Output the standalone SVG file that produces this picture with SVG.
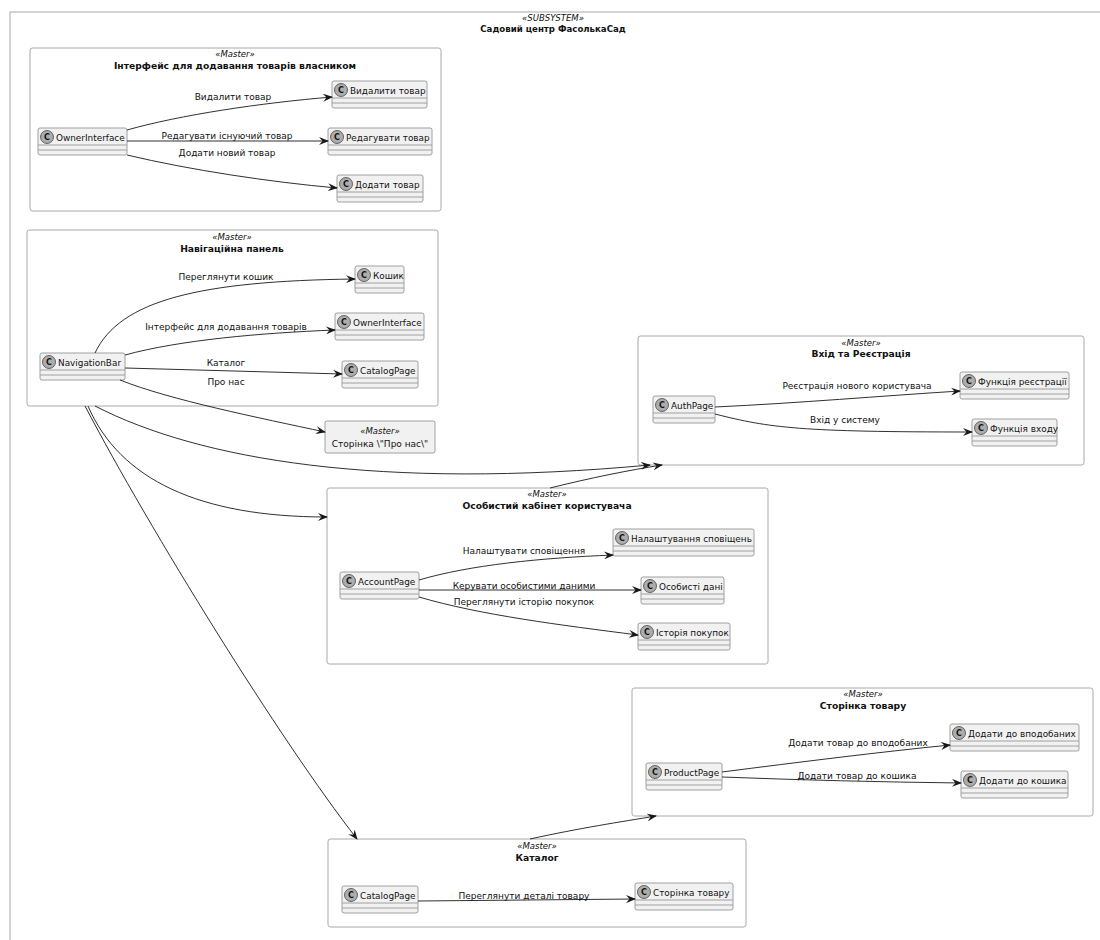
<svg xmlns="http://www.w3.org/2000/svg" width="1100" height="940" viewBox="0 0 1100 940">
<defs>
<marker id="arr" viewBox="0 0 10 8" refX="9" refY="4" markerWidth="10" markerHeight="8" markerUnits="userSpaceOnUse" orient="auto">
<path d="M0,0 L10,4 L0,8 L3.5,4 Z" fill="#181818"/>
</marker>
</defs>
<style>
text{font-family:"DejaVu Sans","Liberation Sans",sans-serif;fill:#111}
.pkg{fill:none;stroke:#A8A8A8;stroke-width:1}
.st{font-size:8.5px;font-style:italic;text-anchor:middle}
.pt{font-size:9.2px;font-weight:bold;text-anchor:middle}
.tt{font-size:8.6px;font-weight:bold;text-anchor:middle}
.cb{fill:#F1F1F1;stroke:#A0A0A0;stroke-width:1}
.cl{stroke:#A0A0A0;stroke-width:1}
.ci{fill:#ADADAD;stroke:#181818;stroke-width:0.6}
.cc{font-size:8px;font-weight:bold;text-anchor:middle}
.cn{font-size:8.9px}
.lb{font-size:9px;text-anchor:middle}
.e{fill:none;stroke:#181818;stroke-width:0.9;marker-end:url(#arr)}
</style>
<rect width="1100" height="940" fill="#FFFFFF"/>
<g id="subsystem">
<rect x="10" y="12" width="1200" height="1000" class="pkg"/>
<text x="553" y="21" class="st">«SUBSYSTEM»</text>
<text x="553" y="32" class="tt">Садовий центр ФасолькаСад</text>
</g>

<g id="pkg-owner">
<rect x="30" y="48" width="411" height="163" rx="2.5" class="pkg"/>
<text x="235" y="57" class="st">«Master»</text>
<text x="235" y="69" class="pt">Інтерфейс для додавання товарів власником</text>
</g>
<g id="OwnerInterface1"><rect x="38" y="128" width="89" height="27" rx="2" class="cb"/><line x1="38" y1="145" x2="127" y2="145" class="cl"/><line x1="38" y1="150" x2="127" y2="150" class="cl"/><circle cx="47" cy="137" r="6.5" class="ci"/><text x="47" y="140" class="cc">C</text><text x="56" y="141" class="cn">OwnerInterface</text></g>
<g id="Delete"><rect x="332" y="81" width="95" height="27" rx="2" class="cb"/><line x1="332" y1="98" x2="427" y2="98" class="cl"/><line x1="332" y1="103" x2="427" y2="103" class="cl"/><circle cx="341" cy="90" r="6.5" class="ci"/><text x="341" y="93" class="cc">C</text><text x="350" y="94" class="cn">Видалити товар</text></g>
<g id="Edit"><rect x="328" y="128" width="104" height="27" rx="2" class="cb"/><line x1="328" y1="145" x2="432" y2="145" class="cl"/><line x1="328" y1="150" x2="432" y2="150" class="cl"/><circle cx="337" cy="137" r="6.5" class="ci"/><text x="337" y="140" class="cc">C</text><text x="346" y="141" class="cn">Редагувати товар</text></g>
<g id="Add"><rect x="337" y="175" width="86" height="27" rx="2" class="cb"/><line x1="337" y1="192" x2="423" y2="192" class="cl"/><line x1="337" y1="197" x2="423" y2="197" class="cl"/><circle cx="346" cy="184" r="6.5" class="ci"/><text x="346" y="187" class="cc">C</text><text x="355" y="188" class="cn">Додати товар</text></g>

<g id="pkg-nav">
<rect x="27" y="230" width="411" height="176" rx="2.5" class="pkg"/>
<text x="232" y="240" class="st">«Master»</text>
<text x="232" y="252" class="pt">Навігаційна панель</text>
</g>
<g id="NavigationBar"><rect x="40" y="353" width="85" height="27" rx="2" class="cb"/><line x1="40" y1="370" x2="125" y2="370" class="cl"/><line x1="40" y1="375" x2="125" y2="375" class="cl"/><circle cx="49" cy="362" r="6.5" class="ci"/><text x="49" y="365" class="cc">C</text><text x="58" y="366" class="cn">NavigationBar</text></g>
<g id="Cart"><rect x="355" y="266" width="49" height="27" rx="2" class="cb"/><line x1="355" y1="283" x2="404" y2="283" class="cl"/><line x1="355" y1="288" x2="404" y2="288" class="cl"/><circle cx="364" cy="275" r="6.5" class="ci"/><text x="364" y="278" class="cc">C</text><text x="373" y="279" class="cn">Кошик</text></g>
<g id="OwnerInterface2"><rect x="335" y="313" width="89" height="27" rx="2" class="cb"/><line x1="335" y1="330" x2="424" y2="330" class="cl"/><line x1="335" y1="335" x2="424" y2="335" class="cl"/><circle cx="344" cy="322" r="6.5" class="ci"/><text x="344" y="325" class="cc">C</text><text x="353" y="326" class="cn">OwnerInterface</text></g>
<g id="CatalogPage1"><rect x="342" y="361" width="76" height="27" rx="2" class="cb"/><line x1="342" y1="378" x2="418" y2="378" class="cl"/><line x1="342" y1="383" x2="418" y2="383" class="cl"/><circle cx="351" cy="370" r="6.5" class="ci"/><text x="351" y="373" class="cc">C</text><text x="360" y="374" class="cn">CatalogPage</text></g>

<g id="AboutPage">
<rect x="325" y="421" width="110" height="32" rx="2" class="cb"/>
<text x="380" y="434" class="st">«Master»</text>
<text x="380" y="447" class="lb">Сторінка \"Про нас\"</text>
</g>

<g id="pkg-auth">
<rect x="638" y="336" width="446" height="129" rx="2.5" class="pkg"/>
<text x="861" y="346" class="st">«Master»</text>
<text x="861" y="357" class="pt">Вхід та Реєстрація</text>
</g>
<g id="AuthPage"><rect x="653" y="396" width="62" height="27" rx="2" class="cb"/><line x1="653" y1="413" x2="715" y2="413" class="cl"/><line x1="653" y1="418" x2="715" y2="418" class="cl"/><circle cx="662" cy="405" r="6.5" class="ci"/><text x="662" y="408" class="cc">C</text><text x="671" y="409" class="cn">AuthPage</text></g>
<g id="Register"><rect x="960" y="372" width="109" height="27" rx="2" class="cb"/><line x1="960" y1="389" x2="1069" y2="389" class="cl"/><line x1="960" y1="394" x2="1069" y2="394" class="cl"/><circle cx="969" cy="381" r="6.5" class="ci"/><text x="969" y="384" class="cc">C</text><text x="978" y="385" class="cn">Функція реєстрації</text></g>
<g id="Login"><rect x="972" y="419" width="85" height="27" rx="2" class="cb"/><line x1="972" y1="436" x2="1057" y2="436" class="cl"/><line x1="972" y1="441" x2="1057" y2="441" class="cl"/><circle cx="981" cy="428" r="6.5" class="ci"/><text x="981" y="431" class="cc">C</text><text x="990" y="432" class="cn">Функція входу</text></g>

<g id="pkg-account">
<rect x="327" y="488" width="441" height="176" rx="2.5" class="pkg"/>
<text x="547" y="497" class="st">«Master»</text>
<text x="547" y="509" class="pt">Особистий кабінет користувача</text>
</g>
<g id="AccountPage"><rect x="340" y="572" width="79" height="27" rx="2" class="cb"/><line x1="340" y1="589" x2="419" y2="589" class="cl"/><line x1="340" y1="594" x2="419" y2="594" class="cl"/><circle cx="349" cy="581" r="6.5" class="ci"/><text x="349" y="584" class="cc">C</text><text x="358" y="585" class="cn">AccountPage</text></g>
<g id="Notifications"><rect x="613" y="529" width="141" height="27" rx="2" class="cb"/><line x1="613" y1="546" x2="754" y2="546" class="cl"/><line x1="613" y1="551" x2="754" y2="551" class="cl"/><circle cx="622" cy="538" r="6.5" class="ci"/><text x="622" y="541" class="cc">C</text><text x="631" y="542" class="cn">Налаштування сповіщень</text></g>
<g id="PersonalData"><rect x="641" y="577" width="83" height="27" rx="2" class="cb"/><line x1="641" y1="594" x2="724" y2="594" class="cl"/><line x1="641" y1="599" x2="724" y2="599" class="cl"/><circle cx="650" cy="586" r="6.5" class="ci"/><text x="650" y="589" class="cc">C</text><text x="659" y="590" class="cn">Особисті дані</text></g>
<g id="History"><rect x="638" y="623" width="92" height="27" rx="2" class="cb"/><line x1="638" y1="640" x2="730" y2="640" class="cl"/><line x1="638" y1="645" x2="730" y2="645" class="cl"/><circle cx="647" cy="632" r="6.5" class="ci"/><text x="647" y="635" class="cc">C</text><text x="656" y="636" class="cn">Історія покупок</text></g>

<g id="pkg-product">
<rect x="632" y="688" width="461" height="128" rx="2.5" class="pkg"/>
<text x="863" y="697" class="st">«Master»</text>
<text x="863" y="709" class="pt">Сторінка товару</text>
</g>
<g id="ProductPage"><rect x="646" y="763" width="76" height="27" rx="2" class="cb"/><line x1="646" y1="780" x2="722" y2="780" class="cl"/><line x1="646" y1="785" x2="722" y2="785" class="cl"/><circle cx="655" cy="772" r="6.5" class="ci"/><text x="655" y="775" class="cc">C</text><text x="664" y="776" class="cn">ProductPage</text></g>
<g id="Favorites"><rect x="950" y="724" width="129" height="27" rx="2" class="cb"/><line x1="950" y1="741" x2="1079" y2="741" class="cl"/><line x1="950" y1="746" x2="1079" y2="746" class="cl"/><circle cx="959" cy="733" r="6.5" class="ci"/><text x="959" y="736" class="cc">C</text><text x="968" y="737" class="cn">Додати до вподобаних</text></g>
<g id="AddToCart"><rect x="961" y="771" width="107" height="27" rx="2" class="cb"/><line x1="961" y1="788" x2="1068" y2="788" class="cl"/><line x1="961" y1="793" x2="1068" y2="793" class="cl"/><circle cx="970" cy="780" r="6.5" class="ci"/><text x="970" y="783" class="cc">C</text><text x="979" y="784" class="cn">Додати до кошика</text></g>

<g id="pkg-catalog">
<rect x="328" y="839" width="418" height="88" rx="2.5" class="pkg"/>
<text x="537" y="849" class="st">«Master»</text>
<text x="537" y="861" class="pt">Каталог</text>
</g>
<g id="CatalogPage2"><rect x="342" y="886" width="76" height="27" rx="2" class="cb"/><line x1="342" y1="903" x2="418" y2="903" class="cl"/><line x1="342" y1="908" x2="418" y2="908" class="cl"/><circle cx="351" cy="895" r="6.5" class="ci"/><text x="351" y="898" class="cc">C</text><text x="360" y="899" class="cn">CatalogPage</text></g>
<g id="ProductPageRef"><rect x="635" y="883" width="98" height="27" rx="2" class="cb"/><line x1="635" y1="900" x2="733" y2="900" class="cl"/><line x1="635" y1="905" x2="733" y2="905" class="cl"/><circle cx="644" cy="892" r="6.5" class="ci"/><text x="644" y="895" class="cc">C</text><text x="653" y="896" class="cn">Сторінка товару</text></g>

<g id="connectors">
<path class="e" d="M127,130 C180,115 260,103 332,97"/>
<path class="e" d="M127,141 L328,141"/>
<path class="e" d="M127,155 C190,170 270,182 337,188"/>
<path class="e" d="M95,353 C120,300 200,281 355,279"/>
<path class="e" d="M125,355 C180,340 260,333 335,330"/>
<path class="e" d="M125,368 L342,374"/>
<path class="e" d="M120,380 C170,400 260,418 325,432"/>
<path class="e" d="M715,407 C800,403 880,396 960,391"/>
<path class="e" d="M715,414 C770,428 800,432 972,432"/>
<path class="e" d="M419,580 C470,565 540,558 613,555"/>
<path class="e" d="M419,590 L641,590"/>
<path class="e" d="M419,597 C480,615 560,625 638,635"/>
<path class="e" d="M722,772 C800,762 880,752 950,745"/>
<path class="e" d="M722,777 C800,780 880,782 961,783"/>
<path class="e" d="M418,901 L635,899"/>
<path class="e" d="M95,406 C200,460 380,490 650,465"/>
<path class="e" d="M88,406 C120,480 200,517 327,517"/>
<path class="e" d="M85,406 C150,530 280,740 357,839"/>
<path class="e" d="M550,488 C590,478 630,470 662,465"/>
<path class="e" d="M530,839 C580,828 620,822 656,816"/>
</g>
<g id="labels">
<text x="233" y="100" class="lb">Видалити товар</text>
<text x="227" y="139" class="lb">Редагувати існуючий товар</text>
<text x="227" y="156" class="lb">Додати новий товар</text>
<text x="226" y="280" class="lb">Переглянути кошик</text>
<text x="226" y="330" class="lb">Інтерфейс для додавання товарів</text>
<text x="226" y="366" class="lb">Каталог</text>
<text x="226" y="385" class="lb">Про нас</text>
<text x="857" y="389" class="lb">Реєстрація нового користувача</text>
<text x="845" y="423" class="lb">Вхід у систему</text>
<text x="524" y="554" class="lb">Налаштувати сповіщення</text>
<text x="524" y="589" class="lb">Керувати особистими даними</text>
<text x="524" y="605" class="lb">Переглянути історію покупок</text>
<text x="858" y="746" class="lb">Додати товар до вподобаних</text>
<text x="857" y="779" class="lb">Додати товар до кошика</text>
<text x="524" y="899" class="lb">Переглянути деталі товару</text>
</g>
</svg>
